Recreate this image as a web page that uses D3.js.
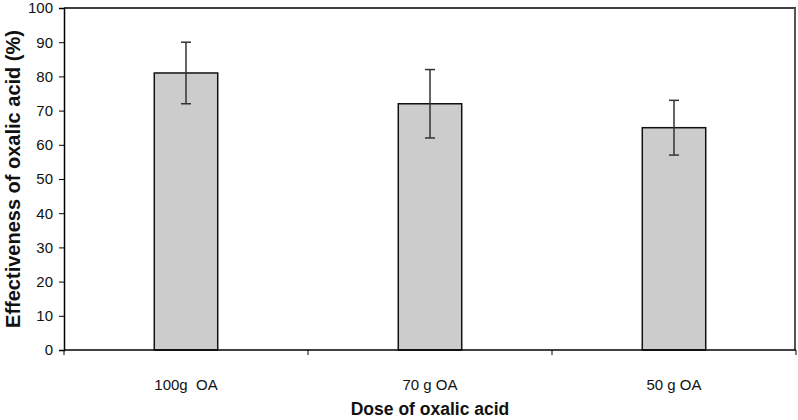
<!DOCTYPE html>
<html>
<head>
<meta charset="utf-8">
<script src="https://cdn.jsdelivr.net/npm/d3@7"></script>
<style>
  body { margin: 0; background: #fff; }
  svg { display: block; font-family: "Liberation Sans", Arial, sans-serif; }
</style>
</head>
<body>
<div id="chart"></div>
<script>
// data
var doses = ['100g  OA', '70 g OA', '50 g OA'];
var effect = [81, 72, 65];
var errs = [9, 10, 8];
var yTicks = [0, 10, 20, 30, 40, 50, 60, 70, 80, 90, 100];

var width = 798, height = 420;
var m = { top: 8, right: 2, bottom: 70, left: 64 };

var svg = d3.select('#chart').append('svg')
  .attr('width', width)
  .attr('height', height);

var x = d3.scaleBand()
  .domain(doses)
  .range([m.left, width - m.right])
  .paddingInner(0.74)
  .paddingOuter(0.37);

var y = d3.scaleLinear()
  .domain([0, 100])
  .range([height - m.bottom, m.top]);

// frame top + right
svg.append('line')
  .attr('x1', m.left).attr('x2', width - m.right)
  .attr('y1', y(100)).attr('y2', y(100))
  .attr('stroke', '#000').attr('stroke-width', 1.5);
svg.append('line')
  .attr('x1', width - m.right - 1).attr('x2', width - m.right - 1)
  .attr('y1', y(100)).attr('y2', y(0))
  .attr('stroke', '#555').attr('stroke-width', 2);

// bars
svg.selectAll('rect.bar')
  .data(effect)
  .enter().append('rect')
  .attr('class', 'bar')
  .attr('x', (d, i) => x(doses[i]))
  .attr('width', x.bandwidth())
  .attr('y', d => y(d))
  .attr('height', d => y(0) - y(d))
  .attr('fill', '#cccccc')
  .attr('stroke', '#111')
  .attr('stroke-width', 1.5);

// error bars
var eb = svg.selectAll('g.err')
  .data(effect)
  .enter().append('g')
  .attr('class', 'err')
  .attr('stroke', '#333')
  .attr('stroke-width', 1.5);
eb.append('line')
  .attr('x1', (d, i) => x(doses[i]) + x.bandwidth() / 2)
  .attr('x2', (d, i) => x(doses[i]) + x.bandwidth() / 2)
  .attr('y1', (d, i) => y(d + errs[i]))
  .attr('y2', (d, i) => y(d - errs[i]));
[1, -1].forEach(function(s) {
  eb.append('line')
    .attr('x1', (d, i) => x(doses[i]) + x.bandwidth() / 2 - 5)
    .attr('x2', (d, i) => x(doses[i]) + x.bandwidth() / 2 + 5)
    .attr('y1', (d, i) => y(d + s * errs[i]))
    .attr('y2', (d, i) => y(d + s * errs[i]));
});

// y axis
var yAxis = d3.axisLeft(y)
  .tickValues(yTicks)
  .tickSize(5)
  .tickPadding(6);
var gy = svg.append('g')
  .attr('transform', 'translate(' + m.left + ',0)')
  .call(yAxis);
gy.select('.domain').attr('stroke', '#000').attr('stroke-width', 1.5);
gy.selectAll('.tick line').attr('stroke', '#000');
gy.selectAll('.tick text')
  .attr('font-size', 15)
  .attr('font-family', '"Liberation Sans", Arial, sans-serif')
  .attr('fill', '#111');

// x axis: ticks at category boundaries
var gx = svg.append('g')
  .attr('transform', 'translate(0,' + y(0) + ')');
gx.append('line')
  .attr('x1', m.left).attr('x2', width - m.right)
  .attr('stroke', '#000').attr('stroke-width', 1.5);
var bounds = doses.map(d => x(d) - x.step() * 0.37).concat([width - m.right]);
gx.selectAll('line.tk')
  .data(bounds)
  .enter().append('line')
  .attr('class', 'tk')
  .attr('x1', d => d).attr('x2', d => d)
  .attr('y1', 0).attr('y2', 5)
  .attr('stroke', '#000');
gx.selectAll('text')
  .data(doses)
  .enter().append('text')
  .attr('x', d => x(d) + x.bandwidth() / 2)
  .attr('y', 40)
  .attr('text-anchor', 'middle')
  .attr('font-size', 15)
  .attr('fill', '#111')
  .style('white-space', 'pre')
  .text(d => d);

// titles
svg.append('text')
  .attr('x', (m.left + width - m.right) / 2)
  .attr('y', 415)
  .attr('text-anchor', 'middle')
  .attr('font-size', 17.5)
  .attr('font-weight', 'bold')
  .attr('fill', '#111')
  .text('Dose of oxalic acid');

svg.append('text')
  .attr('transform', 'translate(20,' + (y(0) + y(100)) / 2 + ') rotate(-90)')
  .attr('text-anchor', 'middle')
  .attr('font-size', 20)
  .attr('font-weight', 'bold')
  .attr('fill', '#111')
  .text('Effectiveness of oxalic acid (%)');
</script>
</body>
</html>
